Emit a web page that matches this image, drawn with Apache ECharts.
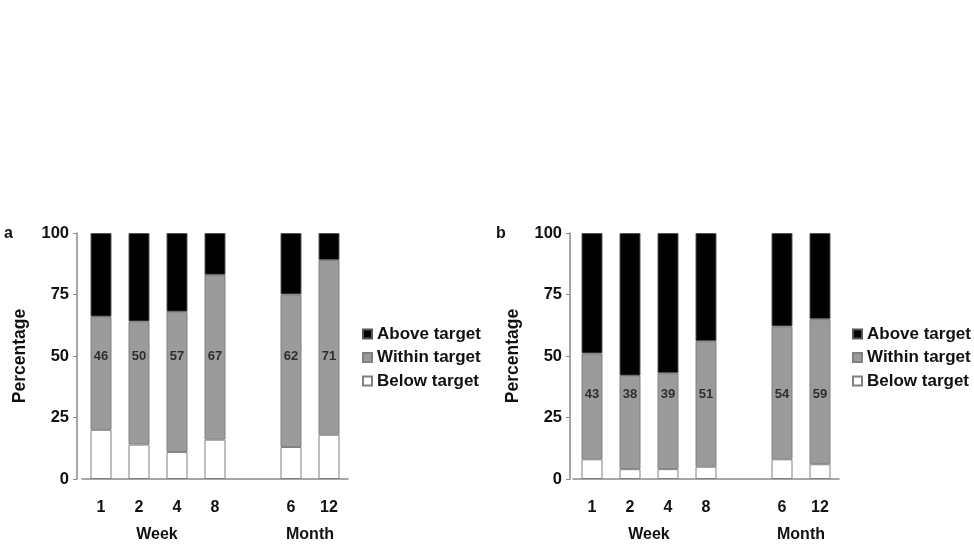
<!DOCTYPE html>
<html><head><meta charset="utf-8">
<script src="https://cdn.jsdelivr.net/npm/echarts@6/dist/echarts.min.js"></script>
<style>html,body{margin:0;padding:0;background:#fff}#c{width:974px;height:546px}</style>
</head><body><div id="c"></div>
<script>
// Categories (the empty one is the gap between weeks and months)
const categories = ['1', '2', '4', '8', '', '6', '12'];
const groupLabels = ['Week', 'Month'];
const seriesNames = ['Above target', 'Within target', 'Below target'];

// Panel a (null = gap column)
const aBelow  = [20, 14, 11, 16, null, 13, 18];
const aWithin = [46, 50, 57, 67, null, 62, 71];
const aAbove  = [34, 36, 32, 17, null, 25, 11];
// Panel b
const bBelow  = [8, 4, 4, 5, null, 8, 6];
const bWithin = [43, 38, 39, 51, null, 54, 59];
const bAbove  = [49, 58, 57, 44, null, 38, 35];

const FONT = '"Liberation Sans", Arial, sans-serif';
const chart = echarts.init(document.getElementById('c'), null, {renderer: 'canvas'});

const panels = [
  {below: aBelow, within: aWithin, above: aAbove, left: 82, yOff: 5, labelY: 50, letter: 'a', letterX: 4, legendX: 362},
  {below: bBelow, within: bWithin, above: bAbove, left: 573, yOff: 3, labelY: 34.5, letter: 'b', letterX: 496, legendX: 852}
];

const grid = [], xAxis = [], yAxis = [], series = [], legend = [], graphic = [];
panels.forEach((p, k) => {
  grid.push({left: p.left, top: 233, width: 266, height: 246, containLabel: false});
  xAxis.push({
    type: 'category', gridIndex: k, data: categories, boundaryGap: true,
    axisLine: {show: true, lineStyle: {color: '#8a8a8a', width: 1.5}},
    axisTick: {show: false}, splitLine: {show: false},
    axisLabel: {interval: 0, margin: 21, color: '#111', fontFamily: FONT, fontWeight: 'bold', fontSize: 16}
  });
  yAxis.push({
    type: 'value', gridIndex: k, min: 0, max: 100, interval: 25, offset: p.yOff,
    name: 'Percentage', nameLocation: 'middle', nameGap: 48, nameRotate: 90, nameMoveOverlap: false,
    nameTextStyle: {color: '#111', fontFamily: FONT, fontWeight: 'bold', fontSize: 17.5},
    axisLine: {show: true, onZero: false, lineStyle: {color: '#8a8a8a', width: 1.5}},
    axisTick: {show: true, length: 4, lineStyle: {color: '#8a8a8a'}},
    splitLine: {show: false},
    axisLabel: {margin: 8, color: '#111', fontFamily: FONT, fontWeight: 'bold', fontSize: 16.5}
  });
  const common = {type: 'bar', xAxisIndex: k, yAxisIndex: k, stack: 's' + k, barWidth: 21, silent: true};
  series.push(Object.assign({}, common, {name: seriesNames[2], data: p.below,
    itemStyle: {color: '#ffffff', borderColor: '#808080', borderWidth: 1}}));
  series.push(Object.assign({}, common, {name: seriesNames[1], data: p.within,
    itemStyle: {color: '#9b9b9b', borderColor: '#808080', borderWidth: 1}}));
  series.push(Object.assign({}, common, {name: seriesNames[0], data: p.above,
    itemStyle: {color: '#000000', borderColor: '#555555', borderWidth: 1}}));
  // within-target value labels, shown at a fixed height inside each bar
  series.push({
    type: 'scatter', xAxisIndex: k, yAxisIndex: k, symbolSize: 0, silent: true, name: 'lbl' + k,
    data: p.within.map((v, i) => v == null ? null : {value: [i, p.labelY], label: {formatter: String(v)}}),
    label: {show: true, position: 'inside', color: '#111', fontFamily: FONT, fontWeight: 'bold', fontSize: 13}
  });
  legend.push({
    orient: 'vertical', left: p.legendX, top: 325, itemWidth: 9, itemHeight: 9, itemGap: 5.5,
    data: seriesNames, selectedMode: false, icon: 'rect', padding: 0,
    textStyle: {color: '#111', fontFamily: FONT, fontWeight: 'bold', fontSize: 17, lineHeight: 18}
  });
  graphic.push({type: 'text', left: p.letterX, top: 226,
    style: {text: p.letter, fill: '#111', font: 'bold 16px ' + FONT}});
});

// group labels under the axes
const groupPos = [[157, 535], [310, 535], [649, 535], [801, 535]];
groupPos.forEach((pos, i) => {
  graphic.push({type: 'text', x: pos[0], y: pos[1],
    style: {text: groupLabels[i % 2], fill: '#111', font: 'bold 16px ' + FONT, align: 'center', verticalAlign: 'middle'}});
});

chart.setOption({
  animation: false, backgroundColor: '#fff',
  grid, xAxis, yAxis, series, legend, graphic
});
</script></body></html>
